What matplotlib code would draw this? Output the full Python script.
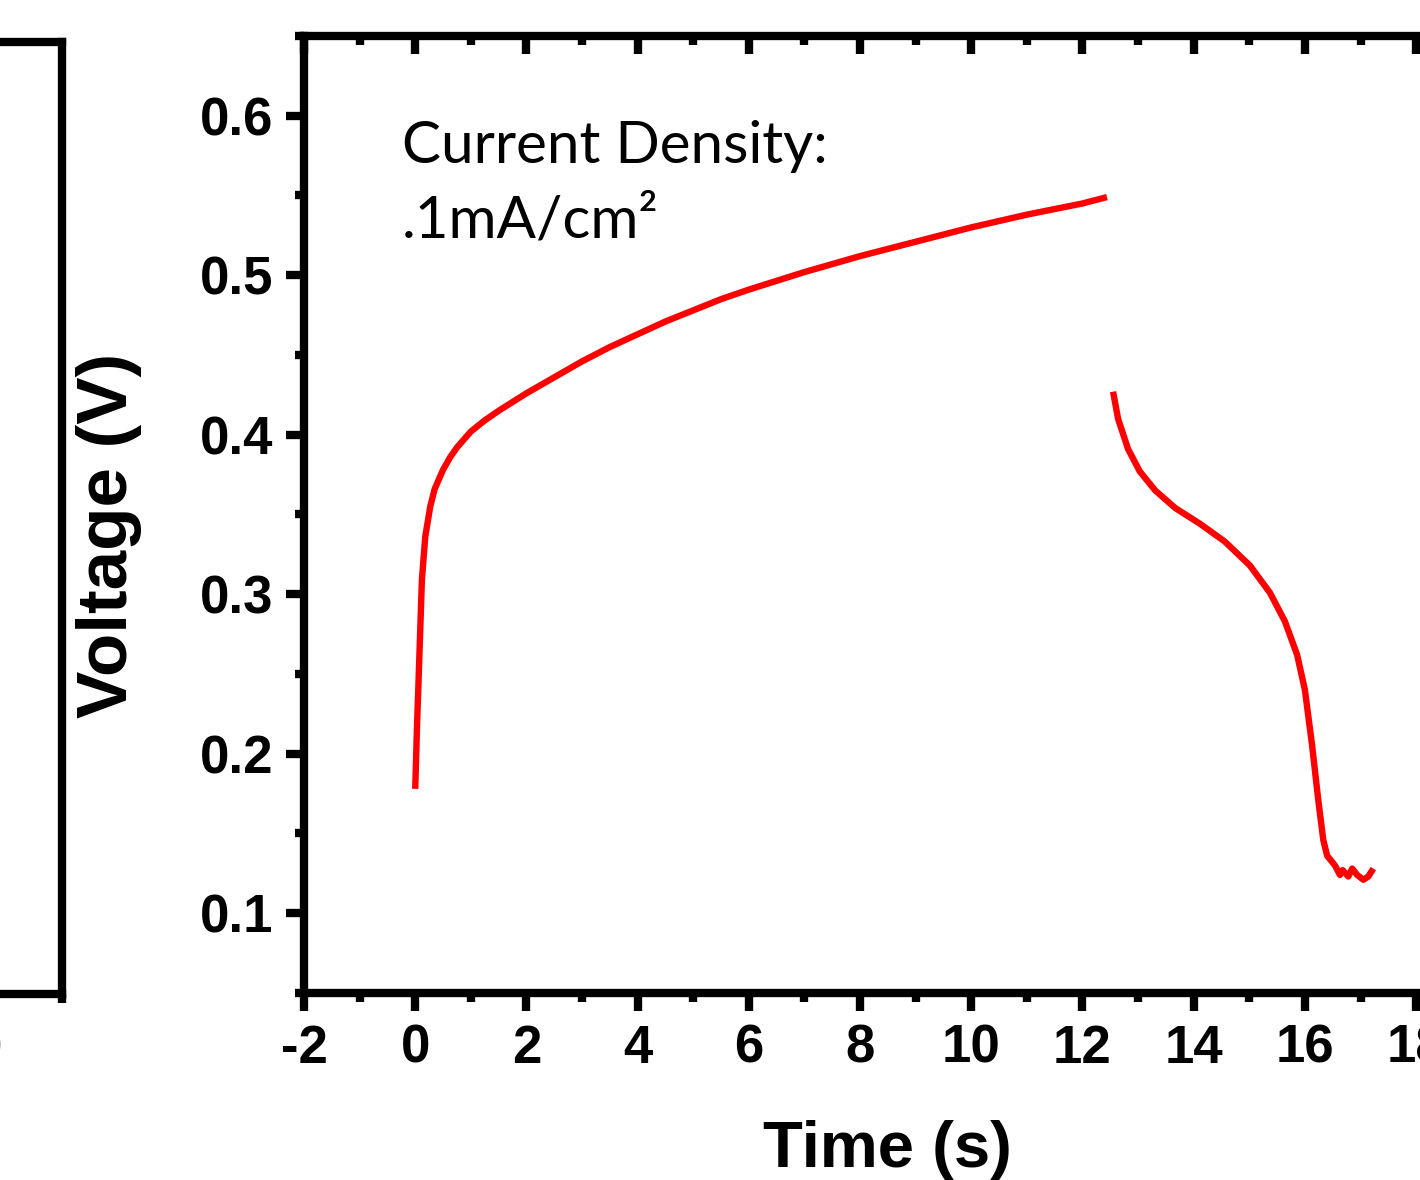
import matplotlib
matplotlib.use("Agg")
import matplotlib.pyplot as plt
from matplotlib.ticker import MultipleLocator

# charge step (time in s, voltage in V)
charge_t = [0.0, 0.03, 0.06, 0.12, 0.18, 0.27, 0.35, 0.5, 0.63, 0.75, 1.0, 1.25, 1.5, 2.0,
            2.5, 3.0, 3.5, 4.0, 4.5, 5.0, 5.5, 6.0, 7.0, 8.0, 9.0, 10.0, 11.0, 12.0, 12.44]
charge_v = [0.178, 0.215, 0.246, 0.309, 0.336, 0.355, 0.366, 0.378, 0.386, 0.392, 0.402, 0.409,
            0.415, 0.426, 0.436, 0.446, 0.455, 0.463, 0.471, 0.478, 0.485, 0.491, 0.502, 0.512,
            0.521, 0.530, 0.538, 0.545, 0.549]

# discharge step
dis_t = [12.55, 12.64, 12.82, 13.03, 13.31, 13.67, 14.12, 14.56, 15.01, 15.37, 15.64, 15.86,
         16.0, 16.13, 16.24, 16.33, 16.40, 16.54, 16.63, 16.68, 16.78, 16.85, 16.94, 17.05,
         17.14, 17.23]
dis_v = [0.427, 0.410, 0.391, 0.377, 0.365, 0.354, 0.344, 0.333, 0.318, 0.301, 0.283, 0.262,
         0.240, 0.205, 0.171, 0.146, 0.136, 0.130, 0.124, 0.127, 0.123, 0.128, 0.124, 0.121,
         0.123, 0.128]

x_ticks = [-2, 0, 2, 4, 6, 8, 10, 12, 14, 16, 18]
y_ticks = [0.1, 0.2, 0.3, 0.4, 0.5, 0.6]
note = "Current Density:\n.1mA/cm\u00b2"
left_panel_label = ["0"]

plt.rcParams["font.family"] = ["Liberation Sans", "DejaVu Sans"]
plt.rcParams["font.weight"] = "bold"
plt.rcParams["axes.unicode_minus"] = False

fig = plt.figure(figsize=(14.2, 11.8), dpi=100)

SPW = 6.0  # spine width in pt

def style_ticks(ax):
    ax.tick_params(which="major", direction="out", length=13, width=SPW, labelsize=38, pad=9)
    ax.tick_params(which="minor", direction="out", length=6.5, width=SPW)

# piece of the neighbouring panel (only its right edge is in the crop)
axl = fig.add_axes([-0.739, 0.1576, 0.7827, 0.8072])
for s in axl.spines.values():
    s.set_linewidth(SPW)
axl.set_xlim(0, 1)
axl.set_ylim(0, 1)
axl.set_xticks([1 - 0.0667])
axl.set_xticklabels(left_panel_label)
axl.set_xticks([1.0], minor=True)
axl.set_yticks([])
style_ticks(axl)

# main panel
ax = fig.add_axes([0.2141, 0.1585, 0.791, 0.811])
ax.plot(charge_t, charge_v, color="#ff0000", lw=4.6, solid_joinstyle="round", solid_capstyle="butt")
ax.plot(dis_t, dis_v, color="#ff0000", lw=4.6, solid_joinstyle="round", solid_capstyle="butt")
ax.set_xlim(-2, 18.2)
ax.set_ylim(0.05, 0.65)
ax.set_xticks(x_ticks)
ax.set_yticks(y_ticks)
ax.set_yticklabels(["%.1f" % v for v in y_ticks])
ax.xaxis.set_minor_locator(MultipleLocator(1))
ax.yaxis.set_minor_locator(MultipleLocator(0.05))
for s in ax.spines.values():
    s.set_linewidth(SPW)
style_ticks(ax)

# mirrored top axis with inward ticks
ax2 = ax.twiny()
ax2.set_xlim(ax.get_xlim())
ax2.set_xticks(x_ticks)
ax2.xaxis.set_minor_locator(MultipleLocator(1))
ax2.tick_params(which="major", direction="in", length=13, width=SPW, labeltop=False)
ax2.tick_params(which="minor", direction="in", length=6.5, width=SPW)

ax.set_xlabel("Time (s)", fontsize=47, fontweight="bold")
ax.xaxis.set_label_coords(0.519, -0.133)
ax.set_ylabel("Voltage (V)", fontsize=51, fontweight="bold")
ax.yaxis.set_label_coords(-0.144, 0.4786)

ax.text(0.087, 0.912, note, transform=ax.transAxes, ha="left", va="top",
        fontsize=42, fontweight="normal", family=["Lato", "DejaVu Sans"], linespacing=1.5)

fig.savefig("out.png", dpi=100)
